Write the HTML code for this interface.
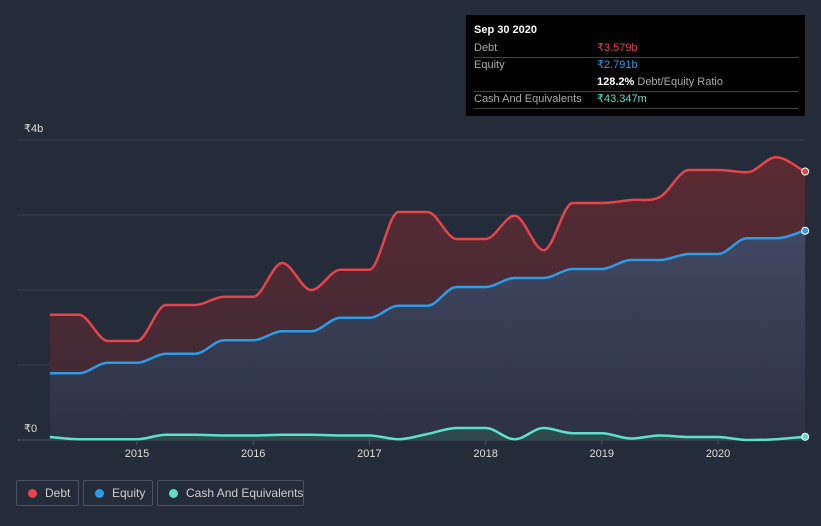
<!DOCTYPE html>
<html><head><meta charset="utf-8"><style>
body{margin:0;background:#252c39;width:821px;height:526px;overflow:hidden;font-family:"Liberation Sans",sans-serif}
svg{position:absolute;left:0;top:0}
#tip{position:absolute;left:466px;top:15px;width:339px;height:101px;background:#000;color:#fff;font-size:11px}
.r{position:absolute;left:8px;right:6px;border-bottom:1px solid #444;height:17px;line-height:17px;color:#aaa}
.r span{position:absolute;left:123px;white-space:nowrap}
.leg{position:absolute;top:480px;height:26px;border:1px solid #4a5160;border-radius:2px;color:#ccc;font-size:12px;line-height:24px;box-sizing:border-box;white-space:nowrap}
.leg i{position:absolute;left:11px;top:8px;width:9px;height:9px;border-radius:50%}
.leg b{font-weight:normal;position:absolute;left:28px;white-space:nowrap}
</style></head><body>
<svg width="821" height="526">
<defs>
<linearGradient id="gd" x1="0" y1="0" x2="0" y2="1"><stop offset="0" stop-color="#5a2a32"/><stop offset="1" stop-color="#3a2a35"/></linearGradient>
<linearGradient id="ge" x1="0" y1="0" x2="0" y2="1"><stop offset="0" stop-color="#414862"/><stop offset="1" stop-color="#2c3142"/></linearGradient>
</defs>
<g id="grid"></g><g id="areas"></g><g id="lines"></g><g id="axis"></g>
</svg>
<div id="tip">
<div style="position:absolute;left:8px;top:9px;font-weight:bold">Sep 30 2020</div>
<div class="r" style="top:25px">Debt<span style="color:#e5444a">₹3.579b</span></div>
<div class="r" style="top:42px;border:none">Equity<span style="color:#2e9be6">₹2.791b</span></div>
<div class="r" style="top:59px;color:#aaa"><span><b style="color:#fff">128.2%</b> Debt/Equity Ratio</span></div>
<div class="r" style="top:76px">Cash And Equivalents<span style="color:#5ee0c8">₹43.347m</span></div>
</div>
<div class="leg" style="left:16px;width:63px"><i style="background:#e5444a"></i><b>Debt</b></div>
<div class="leg" style="left:83px;width:70px"><i style="background:#2e9be6"></i><b>Equity</b></div>
<div class="leg" style="left:157px;width:147px"><i style="background:#5ee0c8"></i><b>Cash And Equivalents</b></div>
<script>
const dates=[2014.25,2014.5,2014.75,2015,2015.25,2015.5,2015.75,2016,2016.25,2016.5,2016.75,2017,2017.25,2017.5,2017.75,2018,2018.25,2018.5,2018.75,2019,2019.25,2019.5,2019.75,2020,2020.25,2020.5,2020.75];
const debt=[1.67,1.67,1.32,1.32,1.8,1.8,1.91,1.91,2.36,2.0,2.27,2.27,3.04,3.04,2.68,2.68,2.99,2.53,3.16,3.16,3.2,3.24,3.6,3.6,3.57,3.77,3.58];
const equity=[0.89,0.89,1.03,1.03,1.15,1.15,1.33,1.33,1.45,1.45,1.63,1.63,1.79,1.79,2.04,2.04,2.16,2.16,2.28,2.28,2.4,2.4,2.48,2.48,2.69,2.69,2.79];
const cash=[0.04,0.01,0.01,0.01,0.07,0.07,0.06,0.06,0.07,0.07,0.06,0.06,0.01,0.08,0.16,0.16,0.01,0.16,0.09,0.09,0.02,0.06,0.04,0.04,0.0,0.01,0.043];
const yTicks=[0,1,2,3,4];
const years=[2015,2016,2017,2018,2019,2020];
const X=d=>137+(d-2015)*116.2, Y=v=>440-v*75;
const NS='http://www.w3.org/2000/svg';
function mk(t,a,p){const e=document.createElementNS(NS,t);for(const k in a)e.setAttribute(k,a[k]);p.appendChild(e);return e;}
function path(vals){const p=dates.map((d,i)=>[X(d),Y(vals[i])]);const n=p.length;
const s=[],m=[];for(let i=0;i<n-1;i++)s.push((p[i+1][1]-p[i][1])/(p[i+1][0]-p[i][0]));
for(let i=0;i<n;i++){if(i==0)m.push(s[0]);else if(i==n-1)m.push(s[n-2]);else m.push(s[i-1]*s[i]<=0?0:(s[i-1]+s[i])/2);}
for(let i=0;i<n-1;i++){if(s[i]==0){m[i]=0;m[i+1]=0;}}
let d=`M${p[0][0]},${p[0][1]}`;
for(let i=0;i<n-1;i++){const h=(p[i+1][0]-p[i][0])/3;d+=`C${p[i][0]+h},${p[i][1]+m[i]*h} ${p[i+1][0]-h},${p[i+1][1]-m[i+1]*h} ${p[i+1][0]},${p[i+1][1]}`;}
return d;}
const grid=document.getElementById('grid'),areas=document.getElementById('areas'),lines=document.getElementById('lines'),axis=document.getElementById('axis');
yTicks.forEach(v=>{const l=mk('line',{x1:17,x2:805,y1:Y(v),y2:Y(v),stroke:v==0?'#4a5160':'#3a4150','stroke-width':1},grid);

});
[[0,'₹0'],[4,'₹4b']].forEach(([v,t])=>{const e=mk('text',{x:24,y:Y(v)-8,fill:'#ddd','font-size':11},axis);e.textContent=t;

});
years.forEach(y=>{mk('line',{x1:X(y),x2:X(y),y1:440,y2:445,stroke:'#4a5160'},axis);
const e=mk('text',{x:X(y),y:457,fill:'#ddd','font-size':11,'text-anchor':'middle'},axis);e.textContent=y;

});
const x0=X(dates[0]),x1=X(dates[dates.length-1]);
[[debt,'url(#gd)','debt-area'],[equity,'url(#ge)','equity-area']].forEach(([v,f,n])=>{const a=mk('path',{d:path(v)+`L${x1},440L${x0},440Z`,fill:f},areas);

});
const ca=mk('path',{d:path(cash)+`L${x1},440L${x0},440Z`,fill:'#2f4a4c'},areas);


[[debt,'#e5444a','debt-line'],[equity,'#2e9be6','equity-line'],[cash,'#5ee0c8','cash-line']].forEach(([v,c,n])=>{
const l=mk('path',{d:path(v),fill:'none',stroke:c,'stroke-width':2.5},lines);


const dot=mk('circle',{cx:x1,cy:Y(v[v.length-1]),r:3.5,fill:c,stroke:'#fff','stroke-width':1},lines);

});
</script>
</body></html>
